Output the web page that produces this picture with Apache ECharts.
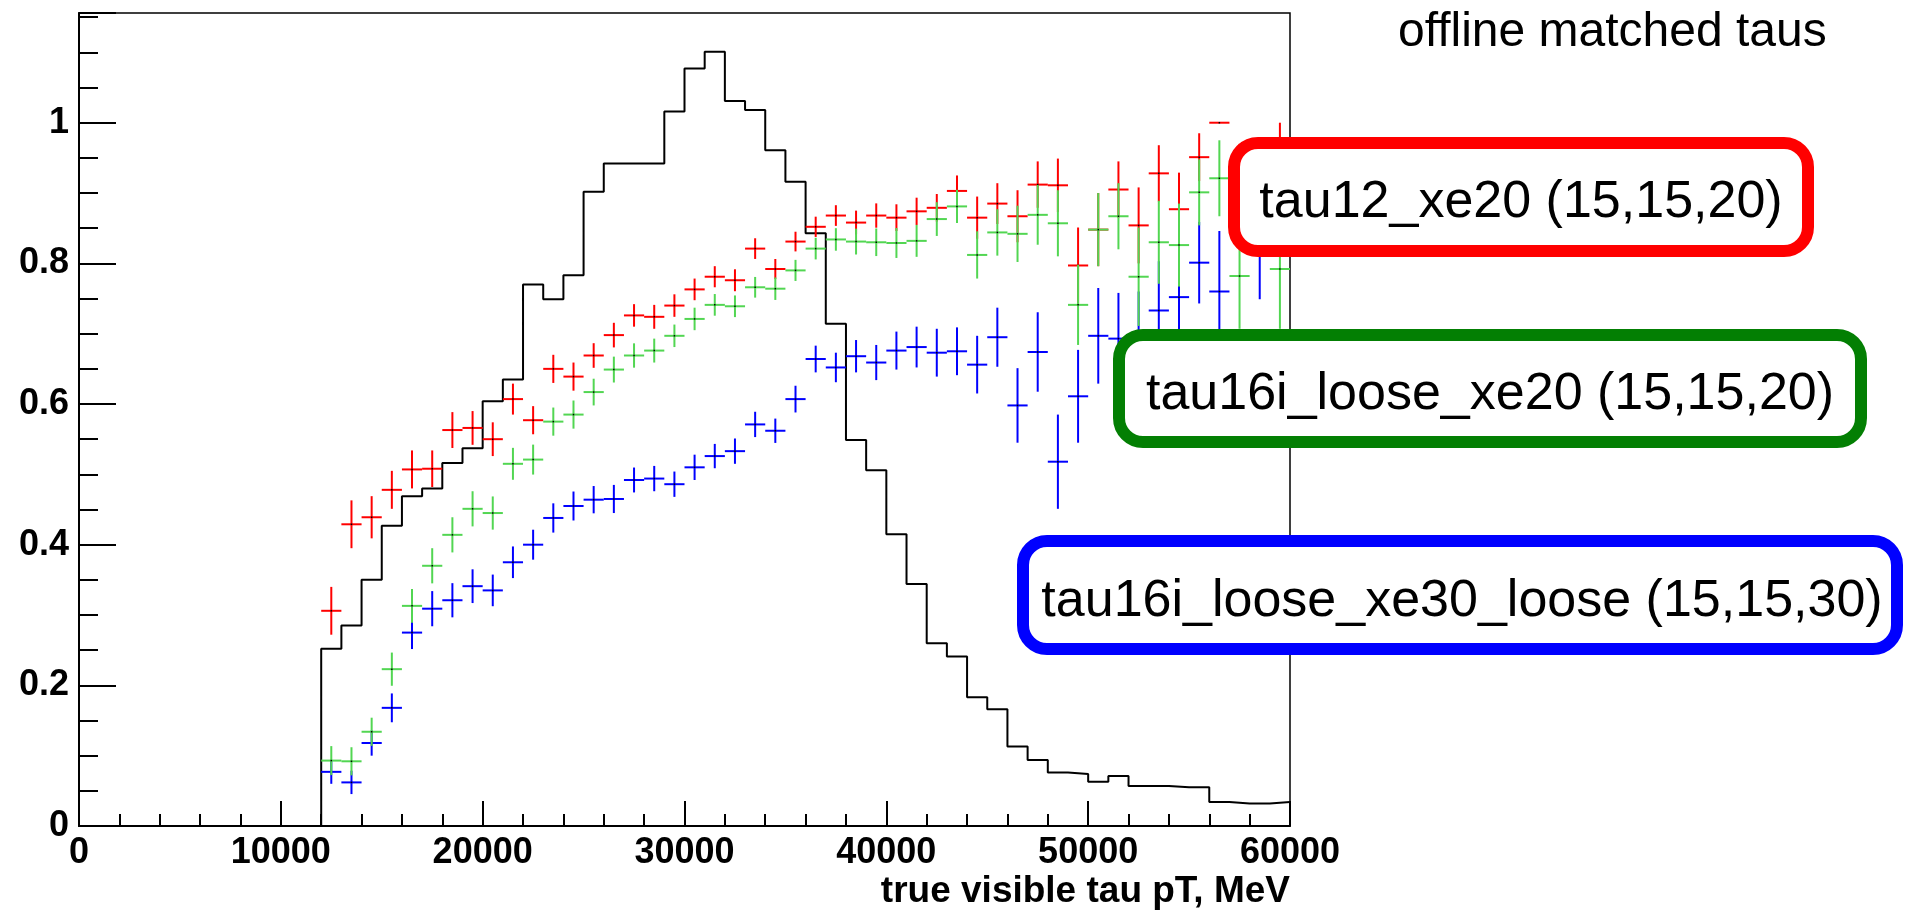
<!DOCTYPE html>
<html><head><meta charset="utf-8">
<script src="https://cdn.jsdelivr.net/npm/echarts@6/dist/echarts.min.js"></script>
<style>html,body{margin:0;padding:0;background:#fff}#c{width:1913px;height:910px}</style>
</head><body><div id="c"></div>
<script>
// ---------------- data ----------------
const BIN_START = 12000;      // first filled bin low edge (MeV)
const BIN_WIDTH = 1000;       // bin width (MeV)
const HALF_BIN = 500;

// black histogram: true visible tau pT distribution (bins 12-13k ... 59-60k)
const histValues = [
  0.252,0.285,0.350,0.427,0.469,0.480,0.516,0.537,
  0.604,0.635,0.770,0.749,0.783,0.902,0.942,0.942,0.942,1.016,
  1.077,1.101,1.031,1.018,0.961,0.916,0.843,0.714,0.549,0.506,
  0.415,0.344,0.260,0.241,0.183,0.166,0.113,0.094,0.076,0.074,
  0.063,0.071,0.057,0.057,0.055,0.055,0.034,0.032,0.032,0.034
];

// tau12_xe20 (red)
const effTau12 = [
  0.306,0.429,0.439,0.478,0.507,0.508,0.563,0.566,
  0.550,0.607,0.577,0.650,0.639,0.669,0.698,0.726,0.724,0.740,
  0.763,0.781,0.776,0.821,0.792,0.831,0.852,0.868,0.858,0.868,
  0.865,0.874,0.879,0.903,0.865,0.885,0.867,0.912,0.911,0.797,
  0.848,0.905,0.854,0.928,0.877,0.951,1.000,0.930,0.920,0.950
];
const errTau12 = [
  0.034,0.034,0.030,0.027,0.027,0.026,0.0255,0.024,
  0.024,0.022,0.020,0.020,0.020,0.0175,0.0175,0.016,0.017,0.016,
  0.0154,0.015,0.0156,0.0147,0.0142,0.014,0.0144,0.0147,0.017,0.0173,
  0.019,0.0194,0.0196,0.022,0.030,0.029,0.037,0.033,0.038,0.054,
  0.052,0.040,0.054,0.040,0.052,0.034,0.000,0.040,0.050,0.050
];

// tau16i_loose_xe20 (green)
const effTau16 = [
  0.093,0.092,0.134,0.223,0.313,0.370,0.414,0.451,
  0.445,0.515,0.521,0.575,0.585,0.617,0.649,0.669,0.676,0.697,
  0.721,0.741,0.739,0.766,0.764,0.790,0.821,0.834,0.831,0.830,
  0.829,0.832,0.863,0.881,0.812,0.844,0.842,0.869,0.857,0.741,
  0.848,0.867,0.781,0.830,0.826,0.901,0.921,0.782,0.890,0.792
];
const errTau16 = [
  0.0206,0.020,0.020,0.0236,0.024,0.025,0.025,0.025,
  0.0236,0.0227,0.0213,0.020,0.020,0.019,0.0184,0.0173,0.017,0.016,
  0.016,0.0154,0.0154,0.0147,0.016,0.015,0.0154,0.016,0.0184,0.0196,
  0.0213,0.0227,0.024,0.0236,0.0336,0.033,0.040,0.0425,0.047,0.057,
  0.052,0.047,0.070,0.059,0.059,0.047,0.054,0.075,0.060,0.085
];

// tau16i_loose_xe30_loose (blue)
const effTau16xe30 = [
  0.077,0.062,0.118,0.168,0.275,0.309,0.321,0.341,
  0.335,0.375,0.400,0.438,0.455,0.464,0.465,0.492,0.494,0.486,
  0.510,0.526,0.533,0.571,0.562,0.607,0.664,0.652,0.668,0.659,
  0.676,0.681,0.673,0.675,0.656,0.695,0.598,0.674,0.518,0.611,
  0.697,0.693,0.690,0.733,0.752,0.801,0.760,0.620,0.830,0.620
];
const errTau16xe30 = [
  0.017,0.0166,0.018,0.0205,0.0234,0.025,0.0243,0.024,
  0.0225,0.0225,0.0213,0.0208,0.0206,0.0194,0.020,0.0177,0.018,0.018,
  0.018,0.0173,0.018,0.018,0.0173,0.019,0.019,0.021,0.023,0.025,
  0.027,0.029,0.034,0.034,0.041,0.042,0.053,0.0565,0.067,0.066,
  0.068,0.065,0.070,0.070,0.070,0.058,0.086,0.075,0.081,0.070
];

const xTickValues = [0,10000,20000,30000,40000,50000,60000];
const xTickLabels = ['0','10000','20000','30000','40000','50000','60000'];
const yTickValues = [0,0.2,0.4,0.6,0.8,1];
const yTickLabels = ['0','0.2','0.4','0.6','0.8','1'];
const X_MIN = 0, X_MAX = 60000, Y_MIN = 0, Y_MAX = 1.156;

const legendLabels = [
  'tau12_xe20 (15,15,20)',
  'tau16i_loose_xe20 (15,15,20)',
  'tau16i_loose_xe30_loose (15,15,30)'
];
const titleText = 'offline matched taus';
const xAxisTitle = 'true visible tau pT, MeV';

// ---------------- build ----------------
const FONT = "'Liberation Sans', Arial, Helvetica, sans-serif";

const histData = [[BIN_START, 0]]
  .concat(histValues.map((v, i) => [BIN_START + i * BIN_WIDTH, v]))
  .concat([[BIN_START + histValues.length * BIN_WIDTH, histValues[histValues.length - 1]]]);

function pts(vals, errs) {
  return vals.map((v, i) => [BIN_START + (i + 0.5) * BIN_WIDTH, v, errs[i]]);
}

function crossRenderer(color) {
  return function (params, api) {
    const x = api.value(0), y = api.value(1), e = api.value(2);
    const l = api.coord([x - HALF_BIN, y]);
    const r = api.coord([x + HALF_BIN, y]);
    const t = api.coord([x, y + e]);
    const b = api.coord([x, y - e]);
    const c = api.coord([x, y]);
    return {
      type: 'group',
      children: [
        { type: 'line', shape: { x1: l[0], y1: l[1], x2: r[0], y2: r[1] }, style: { stroke: color, lineWidth: 2 } },
        { type: 'line', shape: { x1: t[0], y1: t[1], x2: b[0], y2: b[1] }, style: { stroke: color, lineWidth: 2 } },
        { type: 'rect', shape: { x: c[0] - 0.75, y: c[1] - 0.75, width: 1.5, height: 1.5 }, style: { fill: '#000' } }
      ]
    };
  };
}

function findLabel(vals, labels, v) {
  for (let i = 0; i < vals.length; i++) {
    if (Math.abs(vals[i] - v) < 1e-6 * Math.max(1, Math.abs(vals[i]))) return labels[i];
  }
  return '';
}

const chart = echarts.init(document.getElementById('c'), null, { renderer: 'canvas' });

const axisLabelStyle = { color: '#000', fontFamily: FONT, fontWeight: 'bold', fontSize: 36 };

chart.setOption({
  animation: false,
  backgroundColor: '#fff',
  title: {
    text: titleText, left: 1398, top: 9, padding: 0,
    textStyle: { color: '#000', fontFamily: FONT, fontWeight: 'normal', fontSize: 48 }
  },
  grid: {
    left: 79, top: 13, width: 1211, height: 815,
    show: true, borderColor: '#000', borderWidth: 1.5, backgroundColor: 'transparent'
  },
  xAxis: {
    type: 'value', min: X_MIN, max: X_MAX, interval: 10000,
    name: xAxisTitle, nameLocation: 'end', nameGap: 0,
    nameTextStyle: { color: '#000', fontFamily: FONT, fontWeight: 'bold', fontSize: 37,
      align: 'right', verticalAlign: 'top', padding: [47, 0, 0, 0] },
    axisLine: { show: true, onZero: false, lineStyle: { color: '#000', width: 2 } },
    axisTick: { show: true, inside: true, length: 25, lineStyle: { color: '#000', width: 2 } },
    minorTick: { show: true, splitNumber: 5, length: 12, lineStyle: { color: '#000', width: 2 } },
    axisLabel: Object.assign({ margin: 9, formatter: v => findLabel(xTickValues, xTickLabels, v) }, axisLabelStyle),
    splitLine: { show: false }, minorSplitLine: { show: false }
  },
  yAxis: [
    {
      type: 'value', min: Y_MIN, max: Y_MAX, interval: 0.05, position: 'left',
      axisLine: { show: true, onZero: false, lineStyle: { color: '#000', width: 2 } },
      axisTick: { show: true, inside: true, length: 19, lineStyle: { color: '#000', width: 2 } },
      axisLabel: Object.assign({ margin: 10, formatter: v => findLabel(yTickValues, yTickLabels, v) }, axisLabelStyle),
      splitLine: { show: false }
    },
    {
      type: 'value', min: Y_MIN, max: Y_MAX, interval: 0.2, position: 'left', offset: 0,
      axisLine: { show: false },
      axisTick: { show: true, inside: true, length: 37, lineStyle: { color: '#000', width: 2 } },
      axisLabel: { show: false },
      splitLine: { show: false }
    }
  ],
  series: [
    {
      type: 'line', name: 'true tau pT', data: histData, step: 'end',
      showSymbol: false, symbol: 'none', lineStyle: { color: '#000', width: 2 }, z: 2
    },
    { type: 'custom', name: legendLabels[0], data: pts(effTau12, errTau12), renderItem: crossRenderer('#ff0000'), z: 3 },
    { type: 'custom', name: legendLabels[2], data: pts(effTau16xe30, errTau16xe30), renderItem: crossRenderer('#0000ff'), z: 4 },
    { type: 'custom', name: legendLabels[1], data: pts(effTau16, errTau16), renderItem: crossRenderer('#52d652'), z: 5 }
  ],
  graphic: [
    { type: 'rect', z: 100, shape: { x: 1234, y: 143, width: 574, height: 108, r: 24 },
      style: { fill: '#fff', stroke: '#ff0000', lineWidth: 12 } },
    { type: 'text', z: 101, x: 1521, y: 203,
      style: { text: legendLabels[0], fill: '#000', font: "52px " + FONT, align: 'center', verticalAlign: 'middle' } },
    { type: 'rect', z: 100, shape: { x: 1119, y: 335, width: 742, height: 107, r: 24 },
      style: { fill: '#fff', stroke: '#037f03', lineWidth: 12 } },
    { type: 'text', z: 101, x: 1490, y: 395,
      style: { text: legendLabels[1], fill: '#000', font: "52px " + FONT, align: 'center', verticalAlign: 'middle' } },
    { type: 'rect', z: 100, shape: { x: 1023, y: 541, width: 874, height: 108, r: 24 },
      style: { fill: '#fff', stroke: '#0000ff', lineWidth: 12 } },
    { type: 'text', z: 101, x: 1462, y: 602,
      style: { text: legendLabels[2], fill: '#000', font: "52px " + FONT, align: 'center', verticalAlign: 'middle' } }
  ]
});
</script>
</body></html>
